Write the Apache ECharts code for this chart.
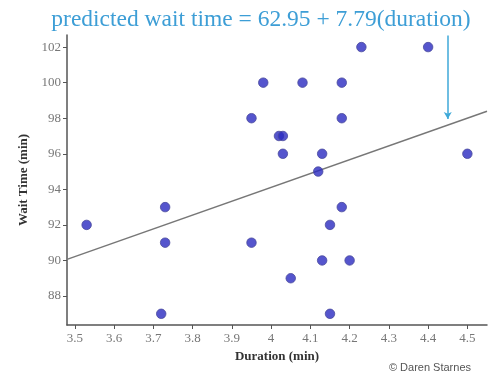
<!DOCTYPE html>
<html><head><meta charset="utf-8">
<script src="https://cdn.jsdelivr.net/npm/echarts@6/dist/echarts.min.js"></script>
<style>html,body{margin:0;padding:0;background:#fff;}#c{width:490px;height:375px;}</style>
</head><body><div id="c"></div>
<script>
// Data
const duration = [3.53,3.72,3.73,3.73,3.95,3.95,3.98,4.02,4.03,4.03,4.05,4.08,4.12,4.13,4.13,4.15,4.15,4.18,4.18,4.18,4.20,4.23,4.40,4.50];
const waitTime = [92,87,93,91,98,91,100,97,97,96,89,100,95,96,90,92,87,100,98,93,90,102,102,96];
const xTicks = [3.5,3.6,3.7,3.8,3.9,4.0,4.1,4.2,4.3,4.4,4.5];
const yTicks = [88,90,92,94,96,98,100,102];
const intercept = 62.95, slope = 7.79;
const xRange = [3.48, 4.55];
const yRange = [86.37, 102.68];
const arrowX = 4.45;
const arrowY = [102.65, 97.95];

const pts = duration.map((d,i)=>[d, waitTime[i]]);
const fitLine = xRange.map(x=>[x, intercept + slope*x]);

const chart = echarts.init(document.getElementById('c'), null, {renderer:'canvas'});
const serif = '"Liberation Serif", "Times New Roman", serif';
chart.setOption({
  animation:false,
  title:{
    text:'predicted wait time = 62.95 + 7.79(duration)',
    left:256, top:3, textAlign:'center',
    textStyle:{color:'#3d9ed6', fontSize:23.5, fontWeight:'normal', fontFamily:serif}
  },
  graphic:[{type:'text', right:19, bottom:2, style:{text:'© Daren Starnes', fill:'#555', font:'11px "Liberation Sans", Arial, sans-serif'}}],
  grid:{left:67, right:3, top:35, bottom:50},
  xAxis:{
    type:'value', min:xRange[0], max:xRange[1],
    name:'Duration (min)', nameLocation:'middle', nameGap:22,
    nameTextStyle:{fontFamily:serif, fontWeight:'bold', fontSize:13, color:'#333'},
    axisLine:{lineStyle:{color:'#555', width:1.5}},
    axisTick:{customValues:xTicks, length:4, lineStyle:{color:'#555'}},
    axisLabel:{customValues:xTicks, fontFamily:serif, fontSize:13, color:'#777', margin:7,
      formatter:v=>String(Math.round(v*10)/10)},
    splitLine:{show:false}
  },
  yAxis:{
    type:'value', min:yRange[0], max:yRange[1],
    name:'Wait Time (min)', nameLocation:'middle', nameGap:32,
    nameTextStyle:{fontFamily:serif, fontWeight:'bold', fontSize:13, color:'#333'},
    axisLine:{show:true, lineStyle:{color:'#555', width:1.5}},
    axisTick:{show:true, customValues:yTicks, length:4, lineStyle:{color:'#555'}},
    axisLabel:{customValues:yTicks, fontFamily:serif, fontSize:13, color:'#777', margin:6},
    splitLine:{show:false}
  },
  series:[
    {type:'line', data:fitLine, showSymbol:false, symbol:'none',
     lineStyle:{color:'#777', width:1.5}, z:1,
     markLine:{silent:true, symbol:['none','arrow'], symbolSize:[6,7],
       label:{show:false},
       lineStyle:{color:'#3fa9d8', width:1.5, type:'solid'},
       data:[[{coord:[arrowX, arrowY[0]]},{coord:[arrowX, arrowY[1]]}]]}},
    {type:'scatter', data:pts, symbolSize:9.5,
     itemStyle:{color:'#2a2ac0', borderColor:'#4a4a9c', borderWidth:1}, z:3}
  ]
});
</script>
</body></html>
